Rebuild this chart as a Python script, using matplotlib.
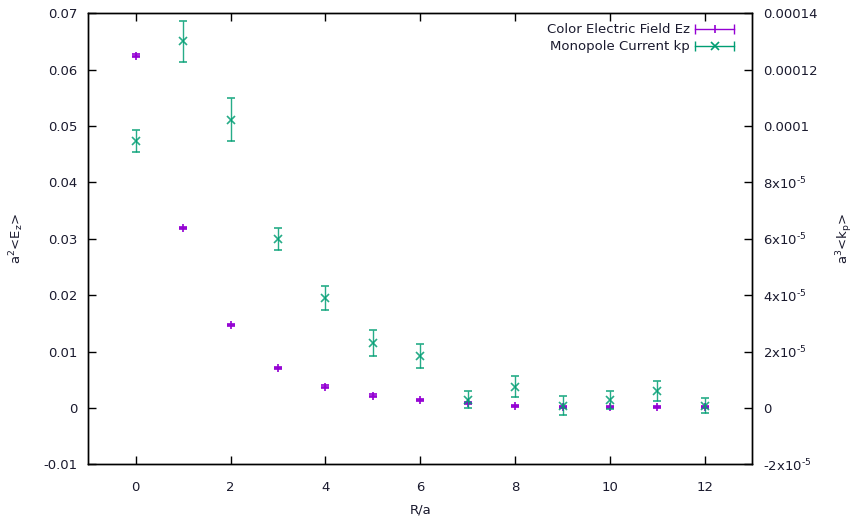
import numpy as np
import matplotlib
matplotlib.use('Agg')
import matplotlib.pyplot as plt
from matplotlib.lines import Line2D
from matplotlib.legend_handler import HandlerBase
from matplotlib.ticker import FixedLocator, FuncFormatter

# data
r = np.arange(13)
ez = [0.0625, 0.0319, 0.0147, 0.0071, 0.0038, 0.0022, 0.0014,
      0.0009, 0.0004, 0.0001, 0.0001, 0.0002, 0.0001]
ez_err = [0.0002, 0.0002, 0.0002, 0.0002, 0.0002, 0.0002, 0.0002,
          0.0002, 0.0002, 0.0002, 0.0002, 0.0002, 0.0002]
kp = [9.48e-5, 1.30e-4, 1.022e-4, 6.0e-5, 3.9e-5, 2.3e-5, 1.84e-5,
      2.9e-6, 7.6e-6, 0.85e-6, 2.9e-6, 6.1e-6, 0.85e-6]
kp_err = [3.9e-6, 7.3e-6, 7.6e-6, 4.0e-6, 4.4e-6, 4.6e-6, 4.3e-6,
          3.1e-6, 3.7e-6, 3.5e-6, 3.2e-6, 3.5e-6, 2.8e-6]

purple = '#9400d3'
green = '#009e73'
txt = '#1a1a2e'

plt.rcParams['font.family'] = 'DejaVu Sans'
plt.rcParams['font.size'] = 9.5

fig = plt.figure(figsize=(8.59, 5.18), dpi=100)
ax = fig.add_axes([88.3 / 859, 1 - 464.3 / 518, (752.3 - 88.3) / 859, (464.3 - 13.3) / 518])
ax2 = ax.twinx()

e1 = ax.errorbar(r, ez, yerr=ez_err, fmt='+', color=purple, ms=6, mew=1.2,
                 capsize=3, elinewidth=1, capthick=1)
e2 = ax2.errorbar(r, kp, yerr=kp_err, fmt='x', color=green, ms=6, mew=1.2,
                  capsize=3, elinewidth=1, capthick=1, alpha=0.85)

ax.set_xlim(-1, 13)
ax.set_ylim(-0.01, 0.07)
ax2.set_ylim(-2e-5, 0.00014)
ax.set_xticks(range(0, 13, 2))
ax.set_yticks(np.arange(-0.01, 0.0701, 0.01))
ax.yaxis.set_major_formatter(FuncFormatter(lambda v, p: '0' if abs(v) < 1e-9 else '%g' % round(v, 2)))

y2ticks = np.arange(-2e-5, 0.000141, 2e-5)
def y2fmt(v, p):
    if abs(v) < 1e-12:
        return '0'
    if abs(v) >= 1e-4 - 1e-12:
        return '%g' % round(v, 5)
    m = int(round(v / 1e-5))
    return '%dx10$^{\\text{-5}}$' % m
ax2.yaxis.set_major_locator(FixedLocator(y2ticks))
ax2.yaxis.set_major_formatter(FuncFormatter(y2fmt))

ax.tick_params(axis='x', direction='in', top=True, length=6, width=1, pad=12, colors='black', labelcolor=txt)
ax.tick_params(axis='y', direction='in', right=False, length=6, width=1, pad=8, colors='black', labelcolor=txt)
ax2.tick_params(axis='y', direction='in', length=6, width=1, pad=8, colors='black', labelcolor=txt)
for a in (ax, ax2):
    for s in a.spines.values():
        s.set_linewidth(1)

ax.set_xlabel('R/a', color=txt, labelpad=7)
ax.set_ylabel(r'a$^2$<E$_\mathrm{z}$>', color=txt, labelpad=12)
ax2.set_ylabel(r'a$^3$<k$_\mathrm{p}$>', color=txt, labelpad=12)


class GnuHandler(HandlerBase):
    def __init__(self, marker, color):
        super().__init__()
        self.marker = marker
        self.color = color

    def create_artists(self, legend, orig_handle, xdescent, ydescent, width, height, fontsize, trans):
        y = height / 2 - ydescent
        line = Line2D([-xdescent, width - xdescent], [y, y], color=self.color, lw=1, transform=trans)
        caps = Line2D([-xdescent, width - xdescent], [y, y], ls='none', marker='|', ms=7,
                      mew=1, color=self.color, transform=trans)
        mid = Line2D([width / 2 - xdescent], [y], ls='none', marker=self.marker, ms=6,
                     mew=1.2, color=self.color, transform=trans)
        return [line, caps, mid]


h1 = Line2D([], [])
h2 = Line2D([], [])
leg = ax.legend([h1, h2], ['Color Electric Field Ez', 'Monopole Current kp'],
                handler_map={h1: GnuHandler('|', purple), h2: GnuHandler('x', green)},
                loc='upper right', bbox_to_anchor=(0.985, 0.995), frameon=False,
                markerfirst=False, handlelength=3.0, handletextpad=0.4,
                labelspacing=0.3, borderaxespad=0.2)
for t in leg.get_texts():
    t.set_color(txt)
    t.set_ha('right')

fig.savefig('out.png', dpi=100)
